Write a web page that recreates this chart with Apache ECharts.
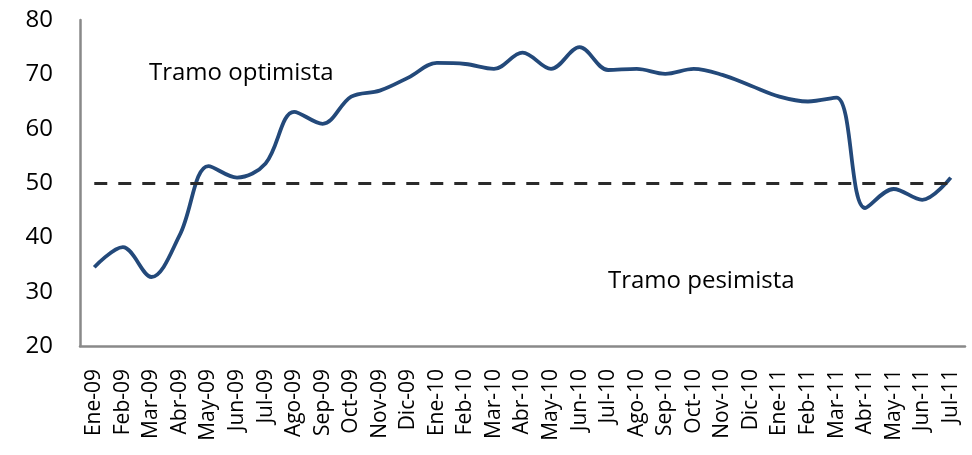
<!DOCTYPE html>
<html>
<head>
<meta charset="utf-8">
<script src="https://cdn.jsdelivr.net/npm/echarts@6/dist/echarts.min.js"></script>
<style>
html, body { margin:0; padding:0; background:#fff; }
#chart { width:972px; height:455px; }
</style>
</head>
<body>
<div id="chart"></div>
<script>
var months = ['Ene-09','Feb-09','Mar-09','Abr-09','May-09','Jun-09','Jul-09','Ago-09','Sep-09','Oct-09','Nov-09','Dic-09',
	'Ene-10','Feb-10','Mar-10','Abr-10','May-10','Jun-10','Jul-10','Ago-10','Sep-10','Oct-10','Nov-10','Dic-10',
	'Ene-11','Feb-11','Mar-11','Abr-11','May-11','Jun-11','Jul-11'];
var indice = [34.5, 38.2, 32.7, 40.5, 53.1, 51.0, 53.6, 63.1, 60.9, 65.9, 67.0, 69.4,
	72.1, 71.9, 71.0, 74.0, 71.0, 75.0, 70.8, 71.0, 70.1, 71.0, 69.9, 67.9,
	65.9, 65.0, 65.7, 45.4, 48.9, 46.9, 51.0];
var umbral = 50;
var yTicks = [20, 80, 10]; // min, max, interval

var myChart = echarts.init(document.getElementById('chart'));
var font = 'Open Sans';
var option = {
	animation: false,
	grid: { left:80, right:7, top:20, bottom:109 },
	xAxis: {
		type: 'category',
		data: months,
		boundaryGap: true,
		axisLine: { lineStyle: { color:'#898989', width:2.5 } },
		axisTick: { show:false },
		splitLine: { show:false },
		axisLabel: { rotate:90, interval:0, margin:23, fontSize:21, color:'#000', fontFamily:font }
	},
	yAxis: {
		type: 'value',
		min: yTicks[0], max: yTicks[1], interval: yTicks[2],
		axisLine: { show:true, lineStyle: { color:'#898989', width:2.5 } },
		axisTick: { show:false },
		splitLine: { show:false },
		axisLabel: { margin:27, fontSize:24, color:'#000', fontFamily:font }
	},
	series: [
		{
			type: 'line',
			data: indice,
			smooth: 0.35,
			symbol: 'none',
			lineStyle: { color:'#23497A', width:3.8 },
			markLine: {
				silent: true,
				symbol: ['none','none'],
				label: { show:false },
				lineStyle: { color:'#2a2a2a', type:[13,11], width:3 },
				data: [[ { xAxis:months[0], yAxis:umbral }, { xAxis:months[months.length-1], yAxis:umbral } ]]
			}
		}
	],
	graphic: [
		{ type:'text', left:149, top:61, style:{ text:'Tramo optimista', fontSize:24, fill:'#000', fontFamily:font } },
		{ type:'text', left:608, top:269, style:{ text:'Tramo pesimista', fontSize:24, fill:'#000', fontFamily:font } }
	]
};
myChart.setOption(option);
</script>
</body>
</html>
